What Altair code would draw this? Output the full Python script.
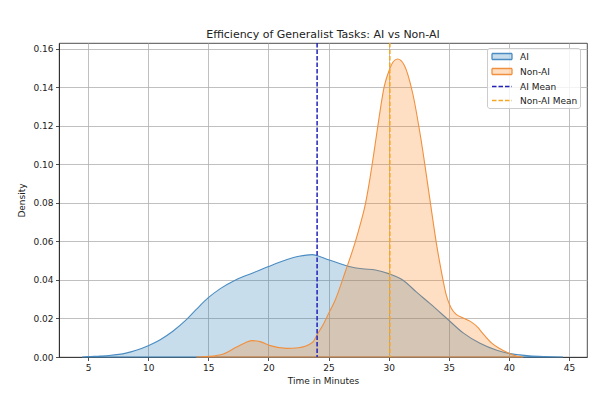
import altair as alt
import pandas as pd

# ---- values ----
ai_minutes = [4.5, 5.0, 6.0, 6.75, 8.15, 9.0, 10.0, 11.0, 12.05, 13.2, 14.0, 15.0, 16.0, 17.35,
              18.75, 20.0, 21.5, 22.54, 23.65, 24.08, 25.0, 25.8, 26.7, 27.8, 28.9, 30.0, 31.2,
              32.3, 33.45, 35.0, 36.2, 37.6, 39.0, 40.0, 40.9, 41.7, 43.0, 44.5]
ai_density = [0.0, 0.0002, 0.0005, 0.0008, 0.002, 0.0035, 0.0059, 0.009, 0.0134, 0.0195, 0.0247,
              0.0308, 0.0355, 0.0403, 0.0438, 0.047, 0.0505, 0.0523, 0.0532, 0.0526, 0.0505,
              0.0488, 0.047, 0.0458, 0.0452, 0.0433, 0.0399, 0.0338, 0.0277, 0.0191, 0.0125,
              0.0071, 0.0035, 0.0019, 0.0011, 0.0006, 0.0002, 0.0]

non_ai_minutes = [14.0, 15.0, 16.25, 17.35, 18.0, 18.6, 19.3, 20.15, 21.5, 22.5, 23.65, 24.08,
                  24.58, 25.0, 25.55, 26.4, 27.2, 27.6, 28.05, 28.4, 28.75, 29.1, 29.65, 30.05,
                  30.4, 30.75, 31.3, 32.0, 32.7, 33.4, 34.0, 34.4, 34.8, 35.2, 35.6, 36.2,
                  36.8, 37.4, 37.8, 38.6, 39.2, 40.0, 40.6, 41.2]
non_ai_density = [0.0, 0.0003, 0.0016, 0.0052, 0.0072, 0.0085, 0.008, 0.0059, 0.0045, 0.0048,
                  0.0075, 0.0119, 0.0172, 0.0225, 0.0295, 0.0444, 0.0593, 0.068, 0.079, 0.091,
                  0.105, 0.12, 0.141, 0.149, 0.1535, 0.1548, 0.1516, 0.137, 0.1127, 0.0832,
                  0.058, 0.044, 0.032, 0.0255, 0.0223, 0.0203, 0.0185, 0.0155, 0.0125, 0.0071,
                  0.0045, 0.0019, 0.0005, 0.0]

series_names = ["AI", "Non-AI", "AI Mean", "Non-AI Mean"]
mean_minutes = [24.05, 30.1]
x_ticks = [5, 10, 15, 20, 25, 30, 35, 40, 45]
y_ticks = [0.0, 0.02, 0.04, 0.06, 0.08, 0.10, 0.12, 0.14, 0.16]

ai_df = pd.DataFrame({"minutes": ai_minutes, "density": ai_density, "series": "AI"})
non_df = pd.DataFrame({"minutes": non_ai_minutes, "density": non_ai_density, "series": "Non-AI"})
mean_df = pd.DataFrame({"minutes": mean_minutes, "series": series_names[2:]})
key_df = pd.DataFrame({"series": series_names})

FONT = "DejaVu Sans"
INK = "#222222"

fill_scale = alt.Scale(domain=series_names,
                       range=["rgba(31,119,180,0.25)", "rgba(255,127,14,0.25)",
                              "rgba(255,255,255,0)", "rgba(255,255,255,0)"])
stroke_scale = alt.Scale(domain=series_names,
                         range=["#4a8cc2", "#f0903e", "#2222b8", "#f5a623"])
dash_scale = alt.Scale(domain=series_names, range=[[1, 0], [1, 0], [4.5, 2], [4.5, 2]])
rect_path = "M-0.7,-0.6H3.3V0.6H-0.7Z"
line_path = "M-0.7,0H3.3"
shape_scale = alt.Scale(domain=series_names, range=[rect_path, rect_path, line_path, line_path])

x_scale = alt.Scale(domain=[2.58, 46.5], nice=False, zero=False)
y_scale = alt.Scale(domain=[0, 0.1631], nice=False, zero=True)

x_axis = alt.Axis(values=x_ticks, format="d", title="Time in Minutes",
                  tickSize=3.5, labelPadding=2.5, titlePadding=4)
y_axis = alt.Axis(values=y_ticks, format=".2f", title="Density",
                  tickSize=3.5, labelPadding=2.5, titlePadding=6)


def area_layer(df):
    return alt.Chart(df).mark_area(interpolate="monotone", strokeWidth=1.1).encode(
        x=alt.X("minutes:Q", scale=x_scale, axis=x_axis),
        y=alt.Y("density:Q", scale=y_scale, axis=y_axis, stack=None),
        fill=alt.Fill("series:N", scale=fill_scale, legend=None),
        stroke=alt.Stroke("series:N", scale=stroke_scale, legend=None),
    )


rules = alt.Chart(mean_df).mark_rule(strokeWidth=1.5).encode(
    x=alt.X("minutes:Q", scale=x_scale),
    stroke=alt.Stroke("series:N", scale=stroke_scale, legend=None),
    strokeDash=alt.StrokeDash("series:N", scale=dash_scale, legend=None),
)

key_legend = alt.Legend(
    title=None, orient="none", legendX=428, legendY=5, zindex=2,
    padding=2.5, rowPadding=3, symbolSize=100, labelOffset=18.5,
    labelFont=FONT, labelFontSize=9, labelColor=INK,
    fillColor="rgba(255,255,255,0.8)", strokeColor="#cccccc", cornerRadius=2.5,
    symbolStrokeWidth=1.3, symbolFillColor="transparent", symbolOpacity=1,
)

keys = alt.Chart(key_df).mark_point(opacity=0, filled=True).encode(
    fill=alt.Fill("series:N", scale=fill_scale, legend=key_legend),
    stroke=alt.Stroke("series:N", scale=stroke_scale, legend=key_legend),
    strokeDash=alt.StrokeDash("series:N", scale=dash_scale, legend=key_legend),
    shape=alt.Shape("series:N", scale=shape_scale, legend=key_legend),
)

chart = alt.layer(keys, area_layer(ai_df), area_layer(non_df), rules).properties(
    width=528, height=314,
    title=alt.TitleParams("Efficiency of Generalist Tasks: AI vs Non-AI", fontSize=11,
                          fontWeight="normal", font=FONT, color=INK, offset=2),
    autosize=alt.AutoSizeParams(type="none"),
    padding={"left": 51, "top": 35, "right": 10, "bottom": 30},
).configure_axis(
    labelFont=FONT, labelFontSize=9, labelColor=INK,
    titleFont=FONT, titleFontSize=9, titleFontWeight="normal", titleColor=INK,
    tickColor=INK, tickWidth=0.8, domainColor=INK, domainWidth=0.8,
    gridColor="#b0b0b0", gridWidth=0.8, zindex=1,
).configure_view(stroke=INK, strokeWidth=0.8)

chart.save("out.html", embed_options={"renderer": "svg", "actions": False})
